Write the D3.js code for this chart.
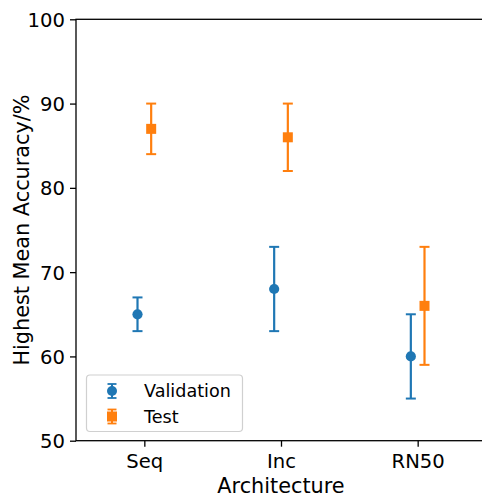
<!DOCTYPE html>
<html>
<head>
<meta charset="utf-8">
<script src="https://cdn.jsdelivr.net/npm/d3@7"></script>
<style>
  html, body { margin: 0; padding: 0; background: #fff; }
  svg { display: block; }
  text { font-family: "DejaVu Sans", sans-serif; fill: #000; }
</style>
</head>
<body>
<svg id="chart" width="482" height="497"></svg>
<script>
const categories = ["Seq", "Inc", "RN50"];
const validationMean = [65, 68, 60];
const validationErr = [2, 5, 5];
const testMean = [87, 86, 66];
const testErr = [3, 4, 7];
const yTicks = [50, 60, 70, 80, 90, 100];
const seriesNames = ["Validation", "Test"];

const W = 482, H = 497;
const margin = { left: 76, right: -4, top: 19.3, bottom: 56.3 };
const svg = d3.select("#chart");

const x = d3.scaleLinear().domain([-0.5, 2.5]).range([margin.left, W - margin.right]);
const y = d3.scaleLinear().domain([50, 100]).range([H - margin.bottom, margin.top]);

const C0 = "#1f77b4", C1 = "#ff7f0e";
const series = [
  { name: seriesNames[0], mean: validationMean, err: validationErr, color: C0, offset: -0.05, shape: "circle" },
  { name: seriesNames[1], mean: testMean, err: testErr, color: C1, offset: 0.05, shape: "square" }
];

// axes
const xAxis = d3.axisBottom(x).tickValues(categories.map((d, i) => i))
  .tickFormat(i => categories[i]).tickSizeOuter(0).tickSize(6).tickPadding(6);
const yAxis = d3.axisLeft(y).tickValues(yTicks).tickSizeOuter(0).tickSize(6).tickPadding(5);

const gx = svg.append("g").attr("transform", `translate(0,${y(50)})`).call(xAxis);
const gy = svg.append("g").attr("transform", `translate(${x(-0.5)},0)`).call(yAxis);
[gx, gy].forEach(g => {
  g.select(".domain").remove();
  g.selectAll(".tick line").attr("stroke", "#000").attr("stroke-width", 1.3);
  g.selectAll(".tick text").style("font-size", "19.6px").attr("fill", "#000");
});
gy.selectAll(".tick text").attr("dy", "0.36em");
gx.selectAll(".tick text").attr("dy", "0.76em");

// spines
svg.append("rect")
  .attr("x", x(-0.5)).attr("y", y(100))
  .attr("width", x(2.5) - x(-0.5)).attr("height", y(50) - y(100))
  .attr("fill", "none").attr("stroke", "#000").attr("stroke-width", 1.3);

// data
const capW = 5;
series.forEach(s => {
  const g = svg.append("g");
  s.mean.forEach((m, i) => {
    const cx = x(i + s.offset);
    const top = y(m + s.err[i]), bot = y(m - s.err[i]);
    g.append("line").attr("x1", cx).attr("x2", cx).attr("y1", top).attr("y2", bot)
      .attr("stroke", s.color).attr("stroke-width", 2.2);
    [top, bot].forEach(yy => g.append("line")
      .attr("x1", cx - capW).attr("x2", cx + capW).attr("y1", yy).attr("y2", yy)
      .attr("stroke", s.color).attr("stroke-width", 2));
    if (s.shape === "circle") {
      g.append("circle").attr("cx", cx).attr("cy", y(m)).attr("r", 5.1).attr("fill", s.color);
    } else {
      g.append("rect").attr("x", cx - 5).attr("y", y(m) - 5).attr("width", 10).attr("height", 10).attr("fill", s.color);
    }
  });
});

// axis labels
svg.append("text").attr("x", (x(-0.5) + x(2.5)) / 2).attr("y", 493)
  .attr("text-anchor", "middle").style("font-size", "20.8px").text("Architecture");
svg.append("text").attr("transform", `translate(28.5,${(y(50) + y(100)) / 2}) rotate(-90)`)
  .attr("text-anchor", "middle").style("font-size", "20.8px").text("Highest Mean Accuracy/%");

// legend
const lg = svg.append("g");
lg.append("rect").attr("x", 86.5).attr("y", 375).attr("width", 156).attr("height", 56.5)
  .attr("rx", 3.5).attr("fill", "#fff").attr("fill-opacity", 0.8)
  .attr("stroke", "#d0d0d0").attr("stroke-width", 1.2);
series.forEach((s, k) => {
  const cy = 391 + k * 25.5;
  const hx = 112;
  lg.append("line").attr("x1", hx).attr("x2", hx).attr("y1", cy - 7).attr("y2", cy + 7)
    .attr("stroke", s.color).attr("stroke-width", 2);
  [cy - 7, cy + 7].forEach(yy => lg.append("line")
    .attr("x1", hx - 4.5).attr("x2", hx + 4.5).attr("y1", yy).attr("y2", yy)
    .attr("stroke", s.color).attr("stroke-width", 1.8));
  if (s.shape === "circle") {
    lg.append("circle").attr("cx", hx).attr("cy", cy).attr("r", 5).attr("fill", s.color);
  } else {
    lg.append("rect").attr("x", hx - 5).attr("y", cy - 5).attr("width", 10).attr("height", 10).attr("fill", s.color);
  }
  lg.append("text").attr("x", 144).attr("y", cy).attr("dy", "0.36em")
    .style("font-size", "17.6px").text(s.name);
});
</script>
</body>
</html>
